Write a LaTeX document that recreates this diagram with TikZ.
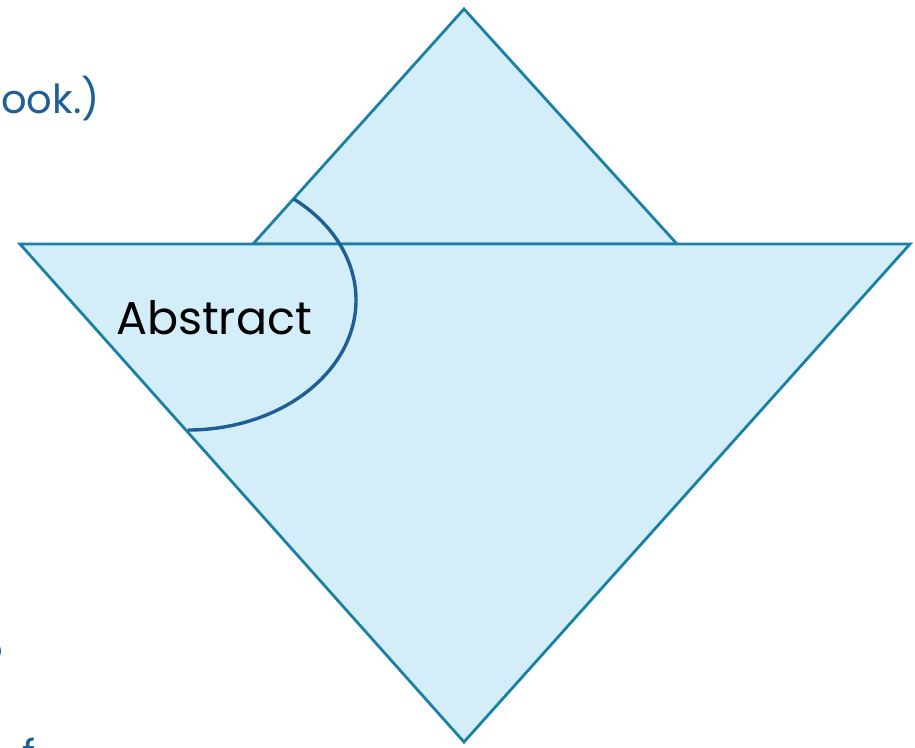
\documentclass[tikz,border=0pt]{standalone}
\usepackage{fontspec}
\setmainfont{Poppins}
\usepackage{xcolor}
\usetikzlibrary{positioning,calc}
\definecolor{paleblue}{HTML}{D4EEF9}
\definecolor{edgeblue}{HTML}{1A80A6}
\definecolor{arcblue}{HTML}{1F5F98}

\begin{document}
\begin{tikzpicture}[x=1pt,y=-1pt,line join=miter]
\tikzstyle{tri}=[fill=paleblue,draw=edgeblue,line width=2.8pt]
\tikzstyle{slidetxt}=[text=arcblue,inner sep=0pt,font=\fontsize{40}{48}\selectfont]
\useasboundingbox (0,0) rectangle (915,747);
\clip (0,0) rectangle (915,747);
% upper triangle, then the big one over it
\coordinate (utop) at (464,9);
\coordinate (ul) at (253,244);
\coordinate (ur) at (677,244);
\coordinate (ll) at (20,244);
\coordinate (lr) at (910,244);
\coordinate (lbot) at (464,742);
\draw[tri] (utop) -- (ur) -- (ul) -- cycle;
\draw[tri] (ll) -- (lr) -- (lbot) -- cycle;
% the abstract arc
\coordinate (arcstart) at ($(188,300)+(-51:168 and 130)$);
\draw[arcblue,line width=3.4pt] (arcstart) arc[start angle=-51,end angle=90,x radius=168,y radius=130];
\node[inner sep=0pt,font=\fontsize{46}{54}\selectfont,anchor=base] (abs) at (214,334) {Abstract};
% cut-off slide text
\node[slidetxt,anchor=base west] (book) at (1,113) {ook.)};
\node[slidetxt,anchor=base east] (qmark) at (4,671) {?};
\node[slidetxt,anchor=north west] (frag) at (22,738) {f};
\end{tikzpicture}
\end{document}
